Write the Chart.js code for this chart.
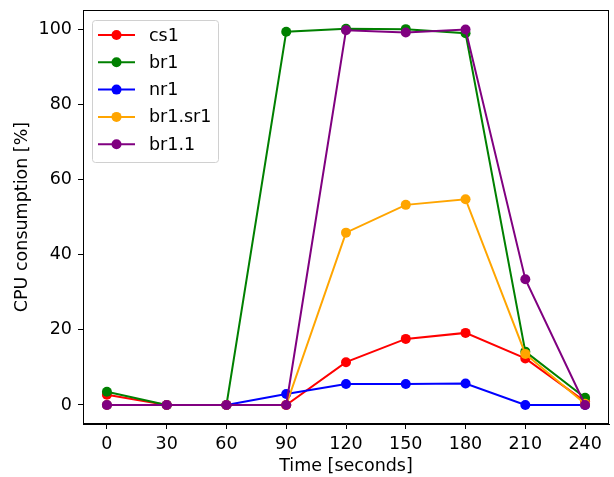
<!DOCTYPE html>
<html>
<head>
<meta charset="utf-8">
<script src="https://cdn.jsdelivr.net/npm/chart.js@4.4.1/dist/chart.umd.min.js"></script>
<style>
  html, body { margin: 0; padding: 0; background: white; }
  #wrap { width: 614px; height: 477px; }
</style>
</head>
<body>
<div id="wrap"><canvas id="chart"></canvas></div>
<script>
var times = [0, 30, 60, 90, 120, 150, 180, 210, 240];
var xTicks = [0, 30, 60, 90, 120, 150, 180, 210, 240];
var yTicks = [0, 20, 40, 60, 80, 100];

var seriesNames = ["cs1", "br1", "nr1", "br1.sr1", "br1.1"];
var seriesColors = ["red", "green", "blue", "orange", "purple"];

var cs1   = [2.7, 0, 0, 0, 11.4, 17.6, 19.2, 12.4, 0.9];
var br1   = [3.5, 0, 0, 99.4, 100.2, 100.1, 99.0, 14.2, 1.9];
var nr1   = [0, 0, 0, 2.9, 5.6, 5.6, 5.7, 0, 0];
var br1sr1 = [0, 0, 0, 0, 45.9, 53.3, 54.8, 13.6, 0.3];
var br11  = [0, 0, 0, 0, 99.8, 99.2, 100.0, 33.5, 0];

var seriesValues = [cs1, br1, nr1, br1sr1, br11];

var font = "DejaVu Sans";
var fs = 17.5;

function pts(vals) {
    return vals.map(function (v, i) { return { x: times[i], y: v }; });
}

// frame around plot area + legend inside the axes, matplotlib style
var framePlugin = {
    id: 'frame',
    afterDraw: function (c) {
        var ctx = c.ctx, a = c.chartArea;
        ctx.save();
        ctx.strokeStyle = 'black';
        ctx.lineWidth = 1;
        ctx.strokeRect(a.left + 0.5, a.top + 0.5, a.right - a.left - 1, a.bottom - a.top - 1);

        // legend box
        var bx = 92, by = 20, bw = 126, bh = 142;
        ctx.fillStyle = 'rgba(255,255,255,0.8)';
        ctx.strokeStyle = '#d0d0d0';
        ctx.beginPath();
        ctx.roundRect(bx + 0.5, by + 0.5, bw, bh, 3);
        ctx.fill();
        ctx.stroke();

        ctx.font = fs + "px '" + font + "'";
        ctx.textBaseline = 'middle';
        ctx.textAlign = 'left';
        for (var i = 0; i < seriesNames.length; i++) {
            var y = 35 + i * 27.3;
            ctx.strokeStyle = seriesColors[i];
            ctx.lineWidth = 2;
            ctx.beginPath();
            ctx.moveTo(98, y);
            ctx.lineTo(135, y);
            ctx.stroke();
            ctx.fillStyle = seriesColors[i];
            ctx.beginPath();
            ctx.arc(116.5, y, 5, 0, Math.PI * 2);
            ctx.fill();
            ctx.fillStyle = 'black';
            ctx.fillText(seriesNames[i], 149, y + 1);
        }
        ctx.restore();
    }
};

var datasets = seriesNames.map(function (name, i) {
    return {
        label: name,
        data: pts(seriesValues[i]),
        borderColor: seriesColors[i],
        backgroundColor: seriesColors[i],
        borderWidth: 2,
        pointRadius: 5,
        pointBorderWidth: 0,
        pointHoverRadius: 5,
        tension: 0,
        order: seriesNames.length - i
    };
});

new Chart(document.getElementById('chart'), {
    type: 'line',
    data: { datasets: datasets },
    options: {
        responsive: true,
        maintainAspectRatio: false,
        animation: false,
        layout: { padding: { left: 0, right: 1, top: 10, bottom: 0 } },
        plugins: {
            legend: { display: false },
            tooltip: { enabled: false }
        },
        scales: {
            x: {
                type: 'linear',
                min: -12,
                max: 252,
                afterBuildTicks: function (s) {
                    s.ticks = xTicks.map(function (v) { return { value: v }; });
                },
                afterFit: function (s) { s.height = 53; s.paddingLeft = 0; s.paddingRight = 0; },
                grid: { display: true, drawOnChartArea: false, drawTicks: true, tickLength: 5, color: 'black' },
                border: { display: true, color: 'black' },
                ticks: { color: 'black', font: { family: font, size: fs }, padding: 5, maxRotation: 0 },
                title: { display: true, text: 'Time [seconds]', color: 'black', font: { family: font, size: fs }, padding: { top: 0, bottom: 0 } }
            },
            y: {
                min: -5.07,
                max: 105.2,
                afterBuildTicks: function (s) {
                    s.ticks = yTicks.map(function (v) { return { value: v }; });
                },
                afterFit: function (s) { s.width = 83; s.paddingTop = 0; s.paddingBottom = 0; },
                grid: { display: true, drawOnChartArea: false, drawTicks: true, tickLength: 5, color: 'black' },
                border: { display: true, color: 'black' },
                ticks: { color: 'black', font: { family: font, size: fs }, padding: 6 },
                title: { display: true, text: 'CPU consumption [%]', color: 'black', font: { family: font, size: fs }, padding: { top: 12, bottom: 0 } }
            }
        }
    },
    plugins: [framePlugin]
});
</script>
</body>
</html>
